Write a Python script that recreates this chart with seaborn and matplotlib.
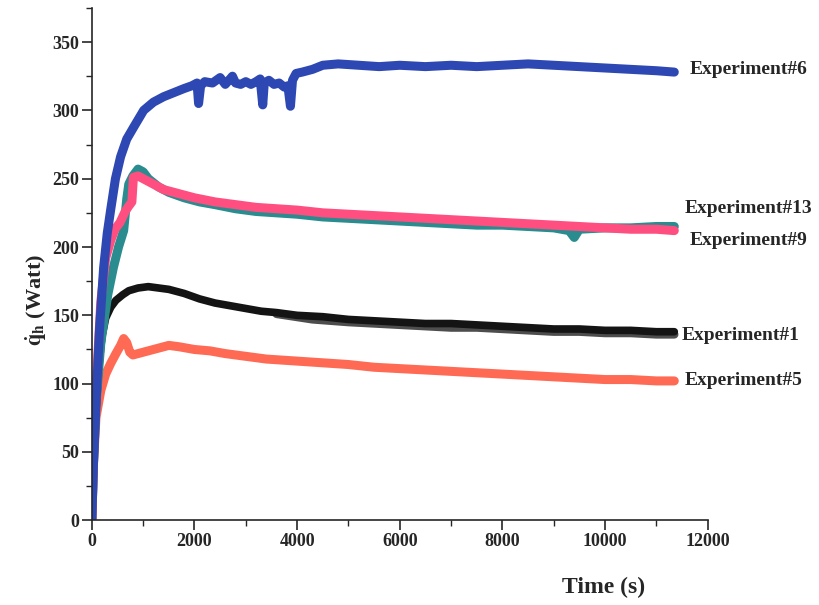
import numpy as np
import pandas as pd
import seaborn as sns
import matplotlib.pyplot as plt
from matplotlib.ticker import MultipleLocator

# Experiment#6 (blue)
exp6_time = [0, 30, 80, 150, 230, 300, 370, 460, 560, 680, 820, 1010, 1200, 1400,
             1600, 1800, 1950, 2050, 2080, 2120, 2200, 2350, 2500, 2600, 2740, 2800,
             2900, 3000, 3100, 3200, 3280, 3330, 3360, 3450, 3550, 3650, 3750, 3820,
             3870, 3910, 3980, 4100, 4300, 4500, 4800, 5200, 5600, 6000, 6500, 7000,
             7500, 8000, 8500, 9000, 9500, 10000, 10500, 11000, 11350]
exp6_q = [0, 40, 85, 140, 185, 210, 228, 250, 266, 279, 288, 300, 306, 310,
          313, 316, 318, 320, 305, 318, 321, 320, 324, 319, 325, 320,
          319, 321, 319, 321, 323, 304, 320, 322, 319, 320, 317, 318,
          303, 322, 327, 328, 330, 333, 334, 333, 332, 333, 332, 333,
          332, 333, 334, 333, 332, 331, 330, 329, 328]

# Experiment#13 (teal)
exp13_time = [0, 30, 80, 175, 310, 420, 520, 620, 680, 720, 800, 900, 1000, 1100,
              1300, 1500, 1800, 2100, 2400, 2800, 3200, 3600, 4000, 4500, 5000, 5500,
              6000, 6500, 7000, 7500, 8000, 8500, 9000, 9300, 9400, 9500, 10000,
              10500, 11000, 11350]
exp13_q = [0, 40, 85, 130, 165, 185, 200, 212, 235, 246, 252, 257, 255, 250,
           244, 240, 236, 233, 231, 228, 226, 225, 224, 222, 221, 220,
           219, 218, 217, 216, 216, 215, 214, 212, 207, 213, 214,
           214, 215, 215]

# Experiment#9 (pink)
exp9_time = [0, 30, 80, 175, 270, 370, 450, 550, 650, 720, 780, 810, 900, 1000,
             1200, 1400, 1700, 2000, 2400, 2800, 3200, 3600, 4000, 4500, 5000, 5500,
             6000, 6500, 7000, 7500, 8000, 8500, 9000, 9500, 10000, 10500, 11000, 11350]
exp9_q = [0, 45, 95, 160, 192, 205, 213, 218, 226, 230, 233, 251, 252, 250,
          246, 242, 239, 236, 233, 231, 229, 228, 227, 225, 224, 223,
          222, 221, 220, 219, 218, 217, 216, 215, 214, 213, 213, 212]

# Experiment#1 (black)
exp1_time = [0, 30, 80, 150, 200, 270, 370, 470, 600, 720, 900, 1100, 1300, 1500,
             1800, 2100, 2400, 2700, 3000, 3300, 3600, 4000, 4500, 5000, 5500, 6000,
             6500, 7000, 7500, 8000, 8500, 9000, 9500, 10000, 10500, 11000, 11350]
exp1_q = [0, 35, 80, 118, 135, 148, 156, 161, 165, 168, 170, 171, 170, 169,
          166, 162, 159, 157, 155, 153, 152, 150, 149, 147, 146, 145,
          144, 144, 143, 142, 141, 140, 140, 139, 139, 138, 138]

# Experiment#1 second trace (grey, along the lower edge of the black one)
exp1b_time = [3600, 4300, 5000, 5500, 6000, 6500, 7000, 7500, 8000, 8500, 9000, 9500,
              10000, 10500, 11000, 11350]
exp1b_q = [151, 147, 145, 144, 143, 142, 141, 141, 140, 139, 138, 138,
           137, 137, 136, 136]

# Experiment#5 (salmon)
exp5_time = [0, 30, 80, 175, 270, 370, 470, 560, 620, 680, 740, 800, 900, 1100,
             1300, 1500, 1700, 2000, 2300, 2600, 3000, 3400, 3800, 4200, 4600, 5000,
             5500, 6000, 6500, 7000, 7500, 8000, 8500, 9000, 9500, 10000, 10500,
             11000, 11350]
exp5_q = [0, 40, 75, 95, 107, 115, 122, 128, 133, 130, 123, 121, 122, 124,
          126, 128, 127, 125, 124, 122, 120, 118, 117, 116, 115, 114,
          112, 111, 110, 109, 108, 107, 106, 105, 104, 103, 103,
          102, 102]

labels = ["Experiment#6", "Experiment#13", "Experiment#9", "Experiment#1", "Experiment#5"]
label_x = [11650, 11550, 11650, 11500, 11550]
label_y = [330, 228, 205, 135, 102]

sns.set_style("ticks")
plt.rcParams["font.family"] = ["Liberation Serif", "DejaVu Serif"]
plt.rcParams["font.weight"] = "bold"
plt.rcParams["mathtext.fontset"] = "stix"

fig = plt.figure(figsize=(8.2, 6.05), dpi=100)
ax = fig.add_axes([0.112, 0.14, 0.751, 0.847])

series = [
    (exp5_time, exp5_q, "#ff6a55", 6.5),
    (exp1b_time, exp1b_q, "#4d4d4d", 6),
    (exp1_time, exp1_q, "#141414", 5.5),
    (exp13_time, exp13_q, "#2a8c8f", 6.5),
    (exp9_time, exp9_q, "#ff4f80", 6.5),
    (exp6_time, exp6_q, "#2d47b3", 6.5),
]
for t, q, c, lw in series:
    df = pd.DataFrame({"time": t, "q": q})
    sns.lineplot(data=df, x="time", y="q", ax=ax, color=c, linewidth=lw,
                 estimator=None, sort=False)

for lab, xx, yy in zip(labels, label_x, label_y):
    ax.text(xx, yy, lab, fontsize=14, fontweight="bold", va="center",
            ha="left", clip_on=False)

ax.set_xlim(0, 12000)
ax.set_ylim(0, 375)
ax.xaxis.set_major_locator(MultipleLocator(2000))
ax.xaxis.set_minor_locator(MultipleLocator(1000))
ax.yaxis.set_major_locator(MultipleLocator(50))
ax.yaxis.set_minor_locator(MultipleLocator(25))
ax.set_yticks(np.arange(0, 351, 50))
ax.tick_params(which="major", direction="out", length=7, width=1.2,
               labelsize=13, pad=2)
ax.tick_params(which="minor", direction="out", length=4, width=1.0)
for lab in ax.get_xticklabels() + ax.get_yticklabels():
    lab.set_fontweight("bold")

sns.despine(ax=ax)
ax.spines["left"].set_linewidth(1.2)
ax.spines["bottom"].set_linewidth(1.2)

ax.set_xlabel("Time (s)", fontsize=17, fontweight="bold")
ax.xaxis.set_label_coords(0.831, -0.11)
ax.set_ylabel(r"$\dot{\mathrm{q}}_{\mathbf{h}}$ (Watt)", fontsize=16, fontweight="bold")
ax.yaxis.set_label_coords(-0.07, 0.43)

fig.savefig("out.png", dpi=100)
